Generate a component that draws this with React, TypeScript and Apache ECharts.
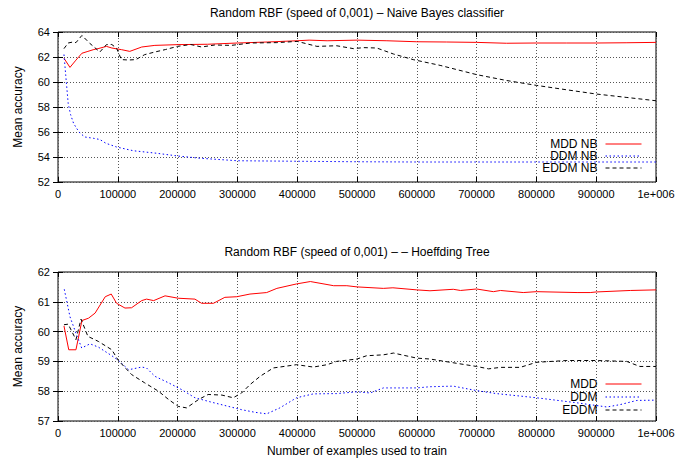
import React, { useEffect, useRef } from "react";
import * as echarts from "echarts";

// ---- Top panel: Naive Bayes ----
const nbMddX = [10000, 20000, 30000, 40000, 50000, 60000, 67000, 81000, 90000, 106000, 120000, 140000, 162000, 200000, 250000, 300000, 350000, 400000, 420000, 450000, 500000, 550000, 600000, 650000, 700000, 750000, 800000, 850000, 900000, 950000, 1000000];
const nbMddY = [61.9, 61.17, 61.75, 62.3, 62.45, 62.6, 62.67, 62.85, 62.72, 62.59, 62.45, 62.8, 62.93, 62.99, 63.02, 63.12, 63.2, 63.3, 63.35, 63.3, 63.35, 63.3, 63.22, 63.2, 63.17, 63.1, 63.12, 63.12, 63.12, 63.14, 63.17];

const nbDdmX = [10000, 13000, 17000, 21000, 26000, 31000, 37000, 45000, 59000, 70000, 80000, 98000, 126000, 165000, 200000, 238000, 300000, 400000, 500000, 600000, 700000, 800000, 900000, 1000000];
const nbDdmY = [62.2, 60.5, 58.3, 57.4, 56.7, 56.3, 55.9, 55.6, 55.5, 55.4, 55.1, 54.8, 54.5, 54.3, 54.08, 53.9, 53.7, 53.66, 53.62, 53.6, 53.6, 53.6, 53.6, 53.6];

const nbEddmX = [10000, 17000, 25000, 30000, 40000, 53000, 70000, 81000, 90000, 98000, 106000, 118000, 130000, 145000, 162000, 180000, 200000, 222000, 240000, 262000, 290000, 322000, 366000, 400000, 433000, 466000, 494000, 511000, 533000, 561000, 594000, 639000, 700000, 750000, 800000, 850000, 900000, 950000, 1000000];
const nbEddmY = [62.67, 63.12, 63.2, 63.15, 63.73, 63.1, 62.4, 62.99, 63.0, 62.7, 61.79, 61.76, 61.79, 62.19, 62.4, 62.6, 62.85, 63.0, 62.8, 62.96, 62.93, 63.12, 63.15, 63.25, 62.85, 62.9, 62.67, 62.75, 62.72, 62.24, 61.79, 61.33, 60.59, 60.12, 59.73, 59.38, 59.04, 58.77, 58.5];

// ---- Bottom panel: Hoeffding Tree ----
const htMddX = [10000, 18000, 30000, 40000, 51000, 62000, 79000, 89000, 98000, 112000, 123000, 140000, 148000, 160000, 179000, 201000, 229000, 240000, 260000, 279000, 299000, 321000, 349000, 366000, 399000, 422000, 461000, 483000, 500000, 544000, 560000, 600000, 622000, 661000, 673000, 700000, 728000, 740000, 778000, 800000, 868000, 890000, 900000, 957000, 1000000];
const htMddY = [60.19, 59.39, 59.39, 60.37, 60.45, 60.62, 61.17, 61.26, 60.95, 60.79, 60.8, 61.04, 61.09, 61.04, 61.2, 61.12, 61.09, 60.95, 60.95, 61.15, 61.17, 61.26, 61.31, 61.45, 61.6, 61.68, 61.54, 61.54, 61.5, 61.45, 61.47, 61.4, 61.37, 61.42, 61.38, 61.43, 61.34, 61.38, 61.31, 61.34, 61.31, 61.31, 61.33, 61.38, 61.4];

const htDdmX = [10500, 20000, 31000, 39600, 53500, 67500, 90000, 103000, 118000, 140000, 148000, 162000, 185000, 207000, 229000, 257000, 285000, 307000, 330000, 349000, 371000, 399000, 427000, 466000, 500000, 522000, 544000, 600000, 622000, 661000, 700000, 733000, 800000, 868000, 918000, 940000, 968000, 1000000];
const htDdmY = [61.42, 60.5, 59.89, 59.45, 59.59, 59.48, 59.19, 59.0, 58.72, 58.81, 58.78, 58.5, 58.28, 58.05, 57.78, 57.63, 57.49, 57.38, 57.29, 57.24, 57.44, 57.78, 57.91, 57.92, 57.98, 57.94, 58.11, 58.11, 58.15, 58.17, 58.02, 57.92, 57.78, 57.61, 57.47, 57.55, 57.69, 57.7];

const htEddmX = [10000, 17000, 30000, 38500, 50000, 67500, 90000, 101000, 123000, 145000, 168000, 185000, 201000, 215000, 235000, 251000, 274000, 293000, 307000, 321000, 338000, 360000, 399000, 427000, 450000, 466000, 500000, 516000, 544000, 561000, 600000, 622000, 656000, 700000, 720000, 740000, 773000, 800000, 851000, 900000, 951000, 973000, 1000000];
const htEddmY = [60.23, 60.25, 59.73, 60.42, 59.84, 59.67, 59.39, 59.03, 58.56, 58.28, 58.0, 57.72, 57.49, 57.44, 57.72, 57.89, 57.87, 57.78, 57.94, 58.22, 58.5, 58.78, 58.89, 58.81, 58.89, 59.0, 59.08, 59.19, 59.22, 59.28, 59.11, 59.08, 58.97, 58.83, 58.75, 58.8, 58.8, 58.97, 59.03, 59.03, 59.0, 58.83, 58.83];

const titles = [
  "Random RBF (speed of 0,001) \u2013 Naive Bayes classifier",
  "Random RBF (speed of 0,001) \u2013 \u2013 Hoeffding Tree",
];
const topNames = ["MDD NB", "DDM NB", "EDDM NB"];
const bottomNames = ["MDD", "DDM", "EDDM"];
const yAxisName = "Mean accuracy";
const xAxisName = "Number of examples used to train";

const FONT = "'Liberation Sans', Arial, Helvetica, sans-serif";

const pair = (xs: number[], ys: number[]) => xs.map((x, i) => [x, ys[i]]);

const styles = [
  { color: "#ff0000", type: "solid" as any },
  { color: "#0000ff", type: [1.5, 2.5] as any },
  { color: "#000000", type: [4, 3] as any },
];

export default function App() {
  const ref = useRef<HTMLDivElement>(null);
  useEffect(() => {
    if (!ref.current) return;
    const chart = echarts.init(ref.current, undefined, { renderer: "svg" });

    const gridDefs = [
      { left: 58, right: 31, top: 32, height: 150 },
      { left: 58, right: 31, top: 272, height: 149 },
    ];
    const yRanges = [
      { min: 52, max: 64, interval: 2 },
      { min: 57, max: 62, interval: 1 },
    ];

    const xAxes: any[] = [];
    const yAxes: any[] = [];
    [0, 1].forEach((g) => {
      xAxes.push({
        type: "value",
        gridIndex: g,
        min: 0,
        max: 1000000,
        interval: 100000,
        position: "bottom",
        axisLine: { show: false },
        axisTick: { show: true, inside: true, length: 5, lineStyle: { color: "#000" } },
        axisLabel: {
          color: "#000",
          fontFamily: FONT,
          fontSize: 11,
          margin: 6,
          formatter: (v: number) => (v === 1000000 ? "1e+006" : String(v)),
        },
        splitLine: { show: true, lineStyle: { color: "#555", width: 1, type: [1, 2] } },
        name: g === 1 ? xAxisName : "",
        nameLocation: "middle",
        nameGap: 24,
        nameTextStyle: { color: "#000", fontFamily: FONT, fontSize: 12 },
      });
      xAxes.push({
        type: "value",
        gridIndex: g,
        min: 0,
        max: 1000000,
        interval: 100000,
        position: "top",
        axisLine: { show: false },
        axisTick: { show: true, inside: true, length: 5, lineStyle: { color: "#000" } },
        axisLabel: { show: false },
        splitLine: { show: false },
      });
      yAxes.push({
        type: "value",
        gridIndex: g,
        ...yRanges[g],
        position: "left",
        axisLine: { show: false },
        axisTick: { show: true, inside: true, length: 5, lineStyle: { color: "#000" } },
        axisLabel: { color: "#000", fontFamily: FONT, fontSize: 11, margin: 8 },
        splitLine: { show: true, lineStyle: { color: "#555", width: 1, type: [1, 2] } },
        name: yAxisName,
        nameLocation: "middle",
        nameRotate: 90,
        nameGap: 34,
        nameTextStyle: { color: "#000", fontFamily: FONT, fontSize: 12 },
      });
      yAxes.push({
        type: "value",
        gridIndex: g,
        ...yRanges[g],
        position: "right",
        axisLine: { show: false },
        axisTick: { show: true, inside: true, length: 5, lineStyle: { color: "#000" } },
        axisLabel: { show: false },
        splitLine: { show: false },
      });
    });

    const mk = (name: string, data: number[][], g: number, k: number) => ({
      name,
      type: "line",
      xAxisIndex: g * 2,
      yAxisIndex: g * 2,
      data,
      symbol: "none",
      showSymbol: false,
      lineStyle: { width: 1, color: styles[k].color, type: styles[k].type },
      itemStyle: { color: styles[k].color },
      z: 3 + k,
    });

    const series = [
      mk(topNames[0], pair(nbMddX, nbMddY), 0, 0),
      mk(topNames[1], pair(nbDdmX, nbDdmY), 0, 1),
      mk(topNames[2], pair(nbEddmX, nbEddmY), 0, 2),
      mk(bottomNames[0], pair(htMddX, htMddY), 1, 0),
      mk(bottomNames[1], pair(htDdmX, htDdmY), 1, 1),
      mk(bottomNames[2], pair(htEddmX, htEddmY), 1, 2),
    ];

    const legendBase = {
      orient: "vertical",
      right: 45,
      align: "right",
      itemWidth: 36,
      itemHeight: 10,
      padding: 0,
      selectedMode: false,
      itemStyle: { opacity: 0 },
      lineStyle: { width: 1 },
      textStyle: {
        color: "#000",
        fontFamily: FONT,
        fontSize: 12,
        padding: [0, 3, 0, 0],
      },
    };

    chart.setOption({
      animation: false,
      backgroundColor: "#fff",
      title: [
        {
          text: titles[0],
          left: 357,
          top: 7,
          textAlign: "center",
          padding: 0,
          textStyle: { color: "#000", fontFamily: FONT, fontSize: 12, fontWeight: "normal" },
        },
        {
          text: titles[1],
          left: 357,
          top: 246,
          textAlign: "center",
          padding: 0,
          textStyle: { color: "#000", fontFamily: FONT, fontSize: 12, fontWeight: "normal" },
        },
      ],
      legend: [
        { ...legendBase, top: 138, itemGap: 0, data: topNames },
        { ...legendBase, top: 378, itemGap: 1, data: bottomNames },
      ],
      grid: gridDefs.map((d) => ({
        ...d,
        show: true,
        borderColor: "#000",
        borderWidth: 1,
        backgroundColor: "transparent",
        containLabel: false,
      })),
      xAxis: xAxes,
      yAxis: yAxes,
      series,
    });

    return () => chart.dispose();
  }, []);

  return (
    <div
      ref={ref}
      style={{ position: "fixed", left: 0, top: 0, width: 687, height: 459 }}
    />
  );
}
